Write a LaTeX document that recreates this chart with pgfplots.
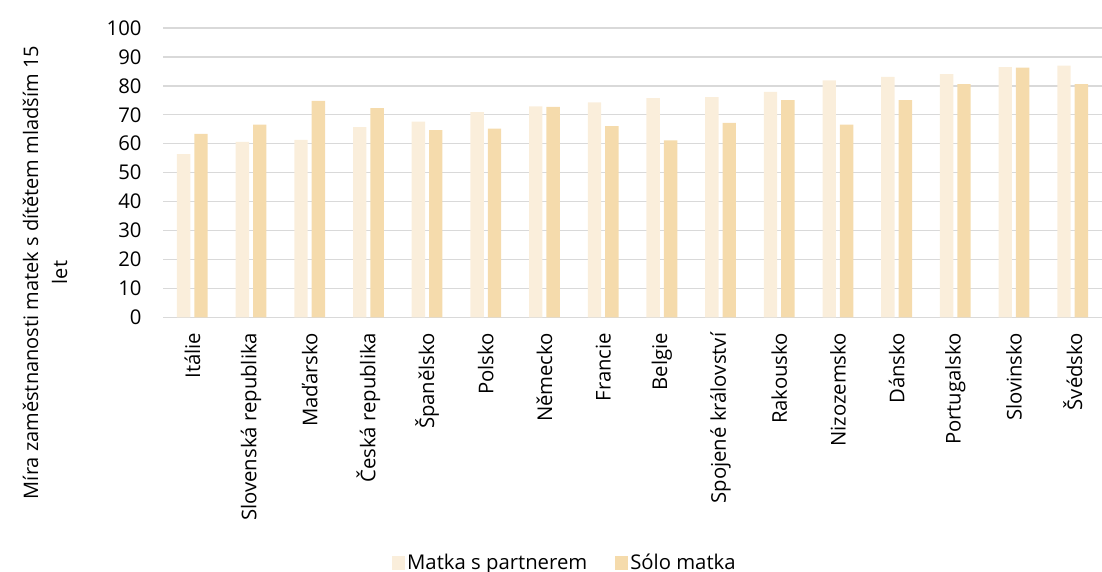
\documentclass[border=0pt]{standalone}
\usepackage{pgfplots}
\pgfplotsset{compat=1.18}
\usepackage{fontspec}
\setmainfont{Open Sans}
\definecolor{lightbar}{HTML}{FAEEDB}
\definecolor{darkbar}{HTML}{F5DBAC}
\definecolor{gridc}{HTML}{D9D9D9}
\newcommand{\fs}{\fontsize{20.3}{23}\selectfont}
\begin{document}
\begin{tikzpicture}[x=1pt,y=1pt]
\useasboundingbox (0,0) rectangle (1102,-572);
\begin{axis}[
  at={(163pt,-317.3pt)}, anchor=south west,
  scale only axis, width=939pt, height=289.3pt,
  ybar=4pt, bar width=13.4pt,
  xmin=-0.5, xmax=15.5, ymin=0, ymax=100,
  ytick={0,10,...,100},
  xtick=data,
  xticklabels={Itálie,Slovenská republika,Maďarsko,Česká republika,Španělsko,Polsko,Německo,Francie,Belgie,Spojené království,Rakousko,Nizozemsko,Dánsko,Portugalsko,Slovinsko,Švédsko},
  x tick label style={rotate=90, anchor=east, font=\fs, xshift=-12pt},
  y tick label style={font=\fs, xshift=-18pt},
  /pgf/number format/assume math mode=true,
  major tick length=0pt,
  axis line style={draw=none},
  ymajorgrids, major grid style={gridc, line width=1.3pt},
  legend style={at={(axis description cs:0.428,-0.846)}, anchor=center, draw=none, legend columns=2, font=\fs, /tikz/every even column/.append style={column sep=26pt}},
  legend image code/.code={\fill[#1] (0pt,-8pt) rectangle (13pt,6pt);},
]
\addplot[fill=lightbar, draw=none] coordinates {(0,56.4) (1,60.6) (2,61.3) (3,65.7) (4,67.6) (5,70.9) (6,72.9) (7,74.3) (8,75.8) (9,76.1) (10,77.9) (11,81.9) (12,83.1) (13,84.1) (14,86.5) (15,87.0)};
\addplot[fill=darkbar, draw=none] coordinates {(0,63.4) (1,66.6) (2,74.8) (3,72.3) (4,64.7) (5,65.2) (6,72.7) (7,66.1) (8,61.2) (9,67.2) (10,75.1) (11,66.6) (12,75.1) (13,80.6) (14,86.3) (15,80.6)};
\legend{Matka s partnerem, Sólo matka}
\end{axis}
\node[rotate=90, align=center, font=\fontsize{20}{29}\selectfont, anchor=center] at (45,-272.5) {Míra zaměstnanosti matek s dítětem mladším 15\\let};
\end{tikzpicture}
\end{document}
